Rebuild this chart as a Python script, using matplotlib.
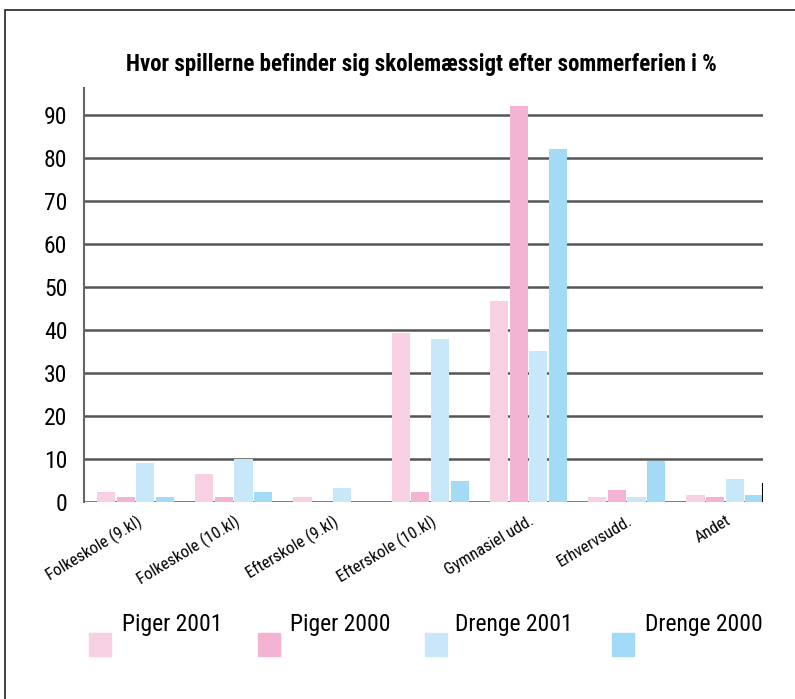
import numpy as np
import matplotlib
matplotlib.use("Agg")
import matplotlib.pyplot as plt
from matplotlib.patches import Rectangle

plt.rcParams["font.family"] = ["Roboto Condensed", "Archivo Narrow", "DejaVu Sans"]

categories = ["Folkeskole (9.kl)", "Folkeskole (10.kl)", "Efterskole (9.kl)",
	"Efterskole (10.kl)", "Gymnasiel udd.", "Erhvervsudd.", "Andet"]
series_names = ["Piger 2001", "Piger 2000", "Drenge 2001", "Drenge 2000"]
piger_2001 = [2.4, 6.5, 1.2, 39.3, 46.7, 1.2, 1.6]
piger_2000 = [1.2, 1.2, 0.0, 2.4, 92.1, 2.8, 1.2]
drenge_2001 = [9.1, 10.0, 3.3, 37.9, 35.1, 1.2, 5.3]
drenge_2000 = [1.2, 2.4, 0.0, 4.9, 82.1, 9.5, 1.6]
yticks = [0, 10, 20, 30, 40, 50, 60, 70, 80, 90]

colors = ["#F8D0E3", "#F3B4D3", "#C8E8F9", "#A3DAF5"]
grid_col = "#555555"

fig = plt.figure(figsize=(7.95, 6.99), dpi=100)

# frame round the whole picture (cut at right/bottom)
fig.add_artist(Rectangle((5/795, -0.1), 1.2, 1 - 10/699 + 0.1,
	transform=fig.transFigure, fill=False, ec="#222222", lw=1.2))

ax = fig.add_axes((84/795, 1 - 502/699, 679/795, 414/699))
x = np.arange(len(categories))
pitch = 0.2
width = 0.185
all_series = [piger_2001, piger_2000, drenge_2001, drenge_2000]
for k, vals in enumerate(all_series):
	ax.bar(x + k*pitch, vals, width=width, align="edge", color=colors[k], zorder=3)

ax.set_xlim(-0.132, 6.78)
ax.set_ylim(0, 96.3)

for t in yticks:
	ax.axhline(t, color=grid_col, lw=1.8, zorder=1)

for s in ["top", "right", "bottom"]:
	ax.spines[s].set_visible(False)
ax.spines["left"].set_color("#666666")
ax.spines["left"].set_linewidth(1.5)

ax.set_yticks(yticks)
ax.set_yticklabels([str(t) for t in yticks], fontsize=17)
ax.tick_params(axis="y", length=0, pad=12)

ax.set_xticks(x + 1.5*pitch + 0.1)
ax.set_xticklabels(categories, rotation=31, ha="right", rotation_mode="anchor", fontsize=12)
ax.tick_params(axis="x", length=0, pad=8)

# small black mark at the right end
ax.vlines(ax.get_xlim()[1], 0, 4.5, color="black", lw=1.5, zorder=4)

fig.text(0.53, 1 - 65/699, "Hvor spillerne befinder sig skolemæssigt efter sommerferien i %",
	ha="center", va="center", fontsize=16.5, fontweight="bold")

# legend
leg_sq_x = [89, 258, 425, 612]
leg_txt_x = [122, 290, 455, 645]
for k, name in enumerate(series_names):
	fig.add_artist(Rectangle((leg_sq_x[k]/795, 1 - 656/699), 22/795, 23/699,
		transform=fig.transFigure, color=colors[k]))
	fig.text(leg_txt_x[k]/795, 1 - 624/699, name, ha="left", va="center", fontsize=17)

fig.savefig("out.png", dpi=100)
